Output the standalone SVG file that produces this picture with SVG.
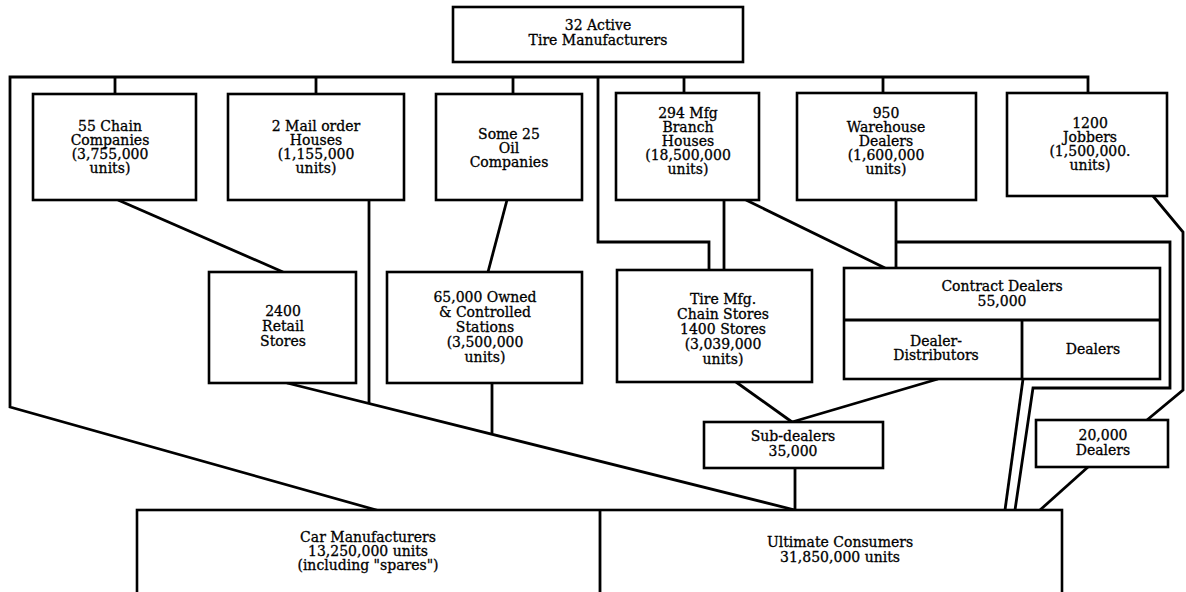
<svg xmlns="http://www.w3.org/2000/svg" width="1186" height="592" viewBox="0 0 1186 592">
<style>
.box{fill:#fff;stroke:#000;stroke-width:2.6}
.ln{fill:none;stroke:#000;stroke-width:2.8;stroke-linejoin:miter}
text{font-family:"DejaVu Serif","Liberation Serif",serif;font-size:14px;fill:#000;stroke:#000;stroke-width:0.3;text-anchor:middle}
</style>
<rect width="1186" height="592" fill="#fff"/>
<g id="connectors">
<polyline class="ln" points="380,511 10,407 10,77 1088,77 1088,93"/>
<line class="ln" x1="115" y1="77" x2="115" y2="93"/>
<line class="ln" x1="316" y1="77" x2="316" y2="93"/>
<line class="ln" x1="513" y1="77" x2="513" y2="93"/>
<line class="ln" x1="684" y1="77" x2="684" y2="93"/>
<line class="ln" x1="883" y1="77" x2="883" y2="93"/>
<polyline class="ln" points="598,77 598,242 709,242 709,270"/>
<line class="ln" x1="118" y1="200" x2="283" y2="272"/>
<line class="ln" x1="369" y1="200" x2="369" y2="403"/>
<line class="ln" x1="507" y1="200" x2="488" y2="272"/>
<line class="ln" x1="492" y1="383" x2="492" y2="433"/>
<line class="ln" x1="287" y1="383" x2="795" y2="510"/>
<line class="ln" x1="724" y1="200" x2="724" y2="270"/>
<line class="ln" x1="746" y1="200" x2="885" y2="268"/>
<line class="ln" x1="896" y1="200" x2="896" y2="268"/>
<polyline class="ln" points="896,242 1170,242 1170,388 1033,388 1015,510"/>
<line class="ln" x1="1023" y1="379" x2="1005" y2="510"/>
<polyline class="ln" points="1153,196 1183,232 1183,390 1147,420"/>
<line class="ln" x1="1088" y1="467" x2="1040" y2="510"/>
<line class="ln" x1="736" y1="382" x2="792" y2="422"/>
<line class="ln" x1="938" y1="379" x2="792" y2="422"/>
<line class="ln" x1="795" y1="468" x2="795" y2="510"/>
</g>
<g id="top">
<rect class="box" x="453" y="7" width="290" height="55"/>
<text x="598" y="30">32 Active</text>
<text x="598" y="45">Tire Manufacturers</text>
</g>
<g id="chain">
<rect class="box" x="33" y="94" width="163" height="106"/>
<text x="110" y="131">55 Chain</text>
<text x="110" y="145">Companies</text>
<text x="110" y="159">(3,755,000</text>
<text x="110" y="173">units)</text>
</g>
<g id="mail">
<rect class="box" x="228" y="94" width="176" height="106"/>
<text x="316" y="131">2 Mail order</text>
<text x="316" y="145">Houses</text>
<text x="316" y="159">(1,155,000</text>
<text x="316" y="173">units)</text>
</g>
<g id="oil">
<rect class="box" x="436" y="94" width="146" height="106"/>
<text x="509" y="139">Some 25</text>
<text x="509" y="153">Oil</text>
<text x="509" y="167">Companies</text>
</g>
<g id="branch">
<rect class="box" x="616" y="93" width="143" height="107"/>
<text x="688" y="118">294 Mfg</text>
<text x="688" y="132">Branch</text>
<text x="688" y="146">Houses</text>
<text x="688" y="160">(18,500,000</text>
<text x="688" y="174">units)</text>
</g>
<g id="warehouse">
<rect class="box" x="797" y="93" width="179" height="107"/>
<text x="886" y="118">950</text>
<text x="886" y="132">Warehouse</text>
<text x="886" y="146">Dealers</text>
<text x="886" y="160">(1,600,000</text>
<text x="886" y="174">units)</text>
</g>
<g id="jobbers">
<rect class="box" x="1007" y="93" width="160" height="103"/>
<text x="1090" y="128">1200</text>
<text x="1090" y="142">Jobbers</text>
<text x="1090" y="156">(1,500,000.</text>
<text x="1090" y="170">units)</text>
</g>
<g id="retail">
<rect class="box" x="209" y="272" width="147" height="111"/>
<text x="283" y="316">2400</text>
<text x="283" y="331">Retail</text>
<text x="283" y="346">Stores</text>
</g>
<g id="owned">
<rect class="box" x="387" y="272" width="195" height="111"/>
<text x="485" y="302">65,000 Owned</text>
<text x="485" y="317">&amp; Controlled</text>
<text x="485" y="332">Stations</text>
<text x="485" y="347">(3,500,000</text>
<text x="485" y="362">units)</text>
</g>
<g id="tirechain">
<rect class="box" x="617" y="270" width="195" height="112"/>
<text x="723" y="304">Tire Mfg.</text>
<text x="723" y="319">Chain Stores</text>
<text x="723" y="334">1400 Stores</text>
<text x="723" y="349">(3,039,000</text>
<text x="723" y="364">units)</text>
</g>
<g id="contract">
<rect class="box" x="844" y="268" width="316" height="111"/>
<line class="ln" x1="844" y1="320" x2="1160" y2="320"/>
<line class="ln" x1="1022" y1="320" x2="1022" y2="379"/>
<text x="1002" y="291">Contract Dealers</text>
<text x="1002" y="306">55,000</text>
<text x="936" y="346">Dealer-</text>
<text x="936" y="360">Distributors</text>
<text x="1093" y="354">Dealers</text>
</g>
<g id="subdealers">
<rect class="box" x="704" y="422" width="179" height="46"/>
<text x="793" y="441">Sub-dealers</text>
<text x="793" y="456">35,000</text>
</g>
<g id="dealers20k">
<rect class="box" x="1036" y="420" width="132" height="47"/>
<text x="1103" y="440">20,000</text>
<text x="1103" y="455">Dealers</text>
</g>
<g id="bottom">
<rect class="box" x="137" y="510" width="925" height="95"/>
<line class="ln" x1="600" y1="510" x2="600" y2="592"/>
<text x="368" y="542">Car Manufacturers</text>
<text x="368" y="556">13,250,000 units</text>
<text x="368" y="570">(including "spares")</text>
<text x="840" y="547">Ultimate Consumers</text>
<text x="840" y="562">31,850,000 units</text>
</g>
</svg>
